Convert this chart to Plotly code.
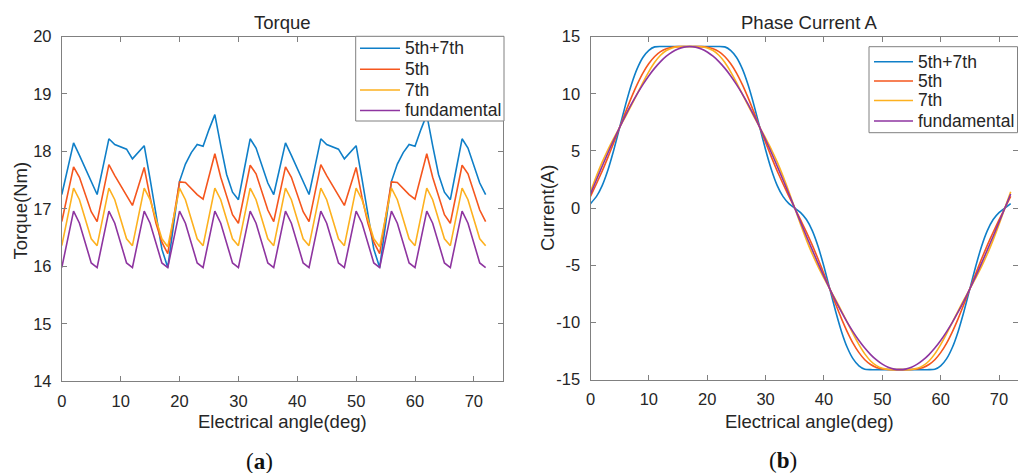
import plotly.graph_objects as go

# ---------------- data ----------------
torque_angle = list(range(73))  # electrical angle (deg), 1-degree steps

torque_5th7th = [
    17.25, 17.70, 18.15, 17.93, 17.70, 17.47,
    17.25, 17.73, 18.22, 18.12, 18.08, 18.04,
    17.87, 17.99, 18.10, 17.52, 16.87, 16.30,
    15.98, 16.74, 17.48, 17.78, 17.98, 18.12,
    18.09, 18.38, 18.64, 18.10, 17.60, 17.29,
    17.16, 17.69, 18.22, 18.06, 17.75, 17.45,
    17.25, 17.70, 18.15, 17.93, 17.70, 17.47,
    17.25, 17.73, 18.22, 18.12, 18.08, 18.04,
    17.87, 17.99, 18.10, 17.52, 16.87, 16.30,
    15.98, 16.74, 17.48, 17.78, 17.98, 18.12,
    18.09, 18.38, 18.64, 18.10, 17.60, 17.29,
    17.16, 17.69, 18.22, 18.06, 17.75, 17.45,
    17.25]

torque_5th = [
    16.78, 17.25, 17.73, 17.55, 17.25, 16.95,
    16.78, 17.27, 17.77, 17.58, 17.40, 17.22,
    17.06, 17.39, 17.72, 17.20, 16.75, 16.42,
    16.22, 16.85, 17.47, 17.46, 17.36, 17.25,
    17.17, 17.57, 17.96, 17.55, 17.23, 16.90,
    16.75, 17.26, 17.76, 17.61, 17.30, 16.98,
    16.78, 17.25, 17.73, 17.55, 17.25, 16.95,
    16.78, 17.27, 17.77, 17.58, 17.40, 17.22,
    17.06, 17.39, 17.72, 17.20, 16.75, 16.42,
    16.22, 16.85, 17.47, 17.46, 17.36, 17.25,
    17.17, 17.57, 17.96, 17.55, 17.23, 16.90,
    16.75, 17.26, 17.76, 17.61, 17.30, 16.98,
    16.78]

torque_7th = [
    16.36, 16.86, 17.36, 17.16, 16.82, 16.48,
    16.36, 16.86, 17.36, 17.16, 16.82, 16.48,
    16.36, 16.86, 17.36, 17.16, 16.82, 16.48,
    16.34, 16.86, 17.36, 17.16, 16.82, 16.48,
    16.36, 16.86, 17.36, 17.16, 16.82, 16.48,
    16.36, 16.86, 17.36, 17.16, 16.82, 16.48,
    16.36, 16.86, 17.36, 17.16, 16.82, 16.48,
    16.36, 16.86, 17.36, 17.16, 16.82, 16.48,
    16.36, 16.86, 17.36, 17.16, 16.82, 16.48,
    16.34, 16.86, 17.36, 17.16, 16.82, 16.48,
    16.36, 16.86, 17.36, 17.16, 16.82, 16.48,
    16.36, 16.86, 17.36, 17.16, 16.82, 16.48,
    16.36]

torque_fund = [
    15.98, 16.47, 16.96, 16.75, 16.41, 16.06,
    15.98, 16.47, 16.96, 16.75, 16.41, 16.06,
    15.98, 16.47, 16.96, 16.75, 16.41, 16.06,
    15.98, 16.47, 16.96, 16.75, 16.41, 16.06,
    15.98, 16.47, 16.96, 16.75, 16.41, 16.06,
    15.98, 16.47, 16.96, 16.75, 16.41, 16.06,
    15.98, 16.47, 16.96, 16.75, 16.41, 16.06,
    15.98, 16.47, 16.96, 16.75, 16.41, 16.06,
    15.98, 16.47, 16.96, 16.75, 16.41, 16.06,
    15.98, 16.47, 16.96, 16.75, 16.41, 16.06,
    15.98, 16.47, 16.96, 16.75, 16.41, 16.06,
    15.98, 16.47, 16.96, 16.75, 16.41, 16.06,
    15.98]

current_angle = list(range(73))

current_5th7th = [
    0.39, 1.00, 1.97, 3.36, 5.11, 7.07, 9.03, 10.79, 12.20, 13.20, 13.81, 14.11, 14.14, 14.14, 14.14, 14.14, 14.14, 14.14,
    14.14, 14.14, 14.14, 14.14, 14.14, 14.11, 13.81, 13.20, 12.20, 10.79, 9.03, 7.07, 5.11, 3.36, 1.97, 1.00, 0.39, 0.00,
    -0.39, -1.00, -1.97, -3.36, -5.11, -7.07, -9.03, -10.79, -12.20, -13.20, -13.81, -14.11, -14.14, -14.14, -14.14, -14.14, -14.14, -14.14,
    -14.14, -14.14, -14.14, -14.14, -14.14, -14.11, -13.81, -13.20, -12.20, -10.79, -9.03, -7.07, -5.11, -3.36, -1.97, -1.00, -0.39, 0.00,
    0.39]

current_5th = [
    1.03, 2.11, 3.24, 4.46, 5.74, 7.07, 8.40, 9.67, 10.83, 11.84, 12.65, 13.27, 13.69, 13.95, 14.08, 14.13, 14.14, 14.14,
    14.14, 14.13, 14.08, 13.95, 13.69, 13.27, 12.65, 11.84, 10.83, 9.67, 8.40, 7.07, 5.74, 4.46, 3.24, 2.11, 1.03, 0.00,
    -1.03, -2.11, -3.24, -4.46, -5.74, -7.07, -8.40, -9.67, -10.83, -11.84, -12.65, -13.27, -13.69, -13.95, -14.08, -14.13, -14.14, -14.14,
    -14.14, -14.13, -14.08, -13.95, -13.69, -13.27, -12.65, -11.84, -10.83, -9.67, -8.40, -7.07, -5.74, -4.46, -3.24, -2.11, -1.03, 0.00,
    1.03]

current_7th = [
    1.43, 2.78, 4.02, 5.13, 6.13, 7.07, 8.01, 8.99, 10.00, 11.01, 11.95, 12.76, 13.38, 13.79, 14.02, 14.12, 14.14, 14.14,
    14.14, 14.12, 14.02, 13.79, 13.38, 12.76, 11.95, 11.01, 10.00, 8.99, 8.01, 7.07, 6.13, 5.13, 4.02, 2.78, 1.43, 0.00,
    -1.43, -2.78, -4.02, -5.13, -6.13, -7.07, -8.01, -8.99, -10.00, -11.01, -11.95, -12.76, -13.38, -13.79, -14.02, -14.12, -14.14, -14.14,
    -14.14, -14.12, -14.02, -13.79, -13.38, -12.76, -11.95, -11.01, -10.00, -8.99, -8.01, -7.07, -6.13, -5.13, -4.02, -2.78, -1.43, 0.00,
    1.43]

current_fund = [
    1.23, 2.46, 3.66, 4.84, 5.98, 7.07, 8.11, 9.09, 10.00, 10.83, 11.59, 12.25, 12.82, 13.29, 13.66, 13.93, 14.09, 14.14,
    14.09, 13.93, 13.66, 13.29, 12.82, 12.25, 11.59, 10.83, 10.00, 9.09, 8.11, 7.07, 5.98, 4.84, 3.66, 2.46, 1.23, 0.00,
    -1.23, -2.46, -3.66, -4.84, -5.98, -7.07, -8.11, -9.09, -10.00, -10.83, -11.59, -12.25, -12.82, -13.29, -13.66, -13.93, -14.09, -14.14,
    -14.09, -13.93, -13.66, -13.29, -12.82, -12.25, -11.59, -10.83, -10.00, -9.09, -8.11, -7.07, -5.98, -4.84, -3.66, -2.46, -1.23, 0.00,
    1.23]

series_names = ["5th+7th", "5th", "7th", "fundamental"]
series_colors = ["#0F7FC8", "#F5561E", "#FDB11F", "#8E35A0"]

x_ticks = [0, 10, 20, 30, 40, 50, 60, 70]
torque_ticks = [14, 15, 16, 17, 18, 19, 20]
current_ticks = [-15, -10, -5, 0, 5, 10, 15]
current_tick_text = ["-15", "-10", "-5", "0", "5", "10", "15"]

# ---------------- figure ----------------
W, H = 1018, 473
FONT = "Liberation Sans, Arial, Helvetica, sans-serif"
TXT = "#262626"
AX = "#808080"

fig = go.Figure()

torque_series = [torque_5th7th, torque_5th, torque_7th, torque_fund]
current_series = [current_5th7th, current_5th, current_7th, current_fund]

for name, col, ys in zip(series_names, series_colors, torque_series):
    fig.add_trace(go.Scatter(x=torque_angle, y=ys, mode="lines", name=name,
                             line=dict(color=col, width=1.6),
                             xaxis="x", yaxis="y", showlegend=False))

for name, col, ys in zip(series_names, series_colors, current_series):
    fig.add_trace(go.Scatter(x=current_angle, y=ys, mode="lines", name=name,
                             line=dict(color=col, width=1.6, shape="spline", smoothing=0.6),
                             xaxis="x2", yaxis="y2", showlegend=False))


def px_x(p):
    return p / W


def px_y(p):
    return 1 - p / H


axis_common = dict(showline=True, linecolor=AX, linewidth=1, mirror="ticks",
                   ticks="inside", ticklen=5, tickcolor=AX, showgrid=False,
                   zeroline=False, automargin=False,
                   tickfont=dict(family=FONT, size=16.5, color=TXT))

fig.update_layout(
    width=W, height=H,
    margin=dict(l=0, r=0, t=0, b=0, autoexpand=False),
    paper_bgcolor="white", plot_bgcolor="white",
    showlegend=False,
    xaxis=dict(domain=[px_x(61.8), px_x(503.3)], range=[0, 75], tickvals=x_ticks,
               anchor="y", ticklabelstandoff=5, **axis_common),
    yaxis=dict(domain=[px_y(381.3), px_y(36.5)], range=[14, 20], tickvals=torque_ticks,
               anchor="x", ticklabelstandoff=6, **axis_common),
    xaxis2=dict(domain=[px_x(590.5), 1.0], range=[0, (W - 590.5) / 5.836], tickvals=x_ticks,
                anchor="y2", ticklabelstandoff=5, **axis_common),
    yaxis2=dict(domain=[px_y(379.5), px_y(36.7)], range=[-15, 15], tickvals=current_ticks,
                ticktext=current_tick_text, anchor="x2", ticklabelstandoff=6, **axis_common),
)

ann = []
shapes = []


def text_at(text, x, y, size=18.5, family=FONT, color=TXT, angle=0, xanchor="center"):
    ann.append(dict(text=text, x=px_x(x), y=px_y(y), xref="paper", yref="paper",
                    xanchor=xanchor, yanchor="middle", showarrow=False, textangle=angle,
                    font=dict(family=family, size=size, color=color)))


# titles
text_at("Torque", 282.5, 23)
text_at("Phase Current A", 809, 23)
# x-axis titles
text_at("Electrical angle(deg)", 282.5, 421.5)
text_at("Electrical angle(deg)", 809, 421.5)
# y-axis titles
text_at("Torque(Nm)", 20.5, 211, angle=-90)
text_at("Current(A)", 547, 208, angle=-90)
# panel labels
SERIF = "Liberation Serif, Times New Roman, serif"
text_at("(<b>a</b>)", 259.5, 461, size=23, family=SERIF, color="#111111")
text_at("(<b>b</b>)", 782.5, 460, size=23, family=SERIF, color="#111111")


# legends (box, line samples, labels) in pixel positions of the figure
def add_legend(x0, y0, x1, y1, line_x0, line_x1, text_x, rows):
    shapes.append(dict(type="rect", xref="paper", yref="paper", layer="above",
                       x0=px_x(x0), x1=px_x(x1), y0=px_y(y1), y1=px_y(y0),
                       fillcolor="white", line=dict(color=AX, width=1)))
    for name, col, ry in zip(series_names, series_colors, rows):
        shapes.append(dict(type="line", xref="paper", yref="paper", layer="above",
                           x0=px_x(line_x0), x1=px_x(line_x1), y0=px_y(ry), y1=px_y(ry),
                           line=dict(color=col, width=1.6)))
        text_at(name, text_x, ry, size=17.5, xanchor="left")


add_legend(355.7, 36.3, 504, 121, 360, 400, 403, [48.3, 69.3, 90, 110.5])
add_legend(869, 46.7, 1017.5, 132.7, 874, 913, 916, [61.7, 81, 100.5, 121])

fig.update_layout(annotations=ann, shapes=shapes)

fig.write_html("out.html",
               config={"displayModeBar": False, "staticPlot": True},
               post_script="document.body.style.margin='0px';"
                           "document.body.style.overflow='hidden';")
